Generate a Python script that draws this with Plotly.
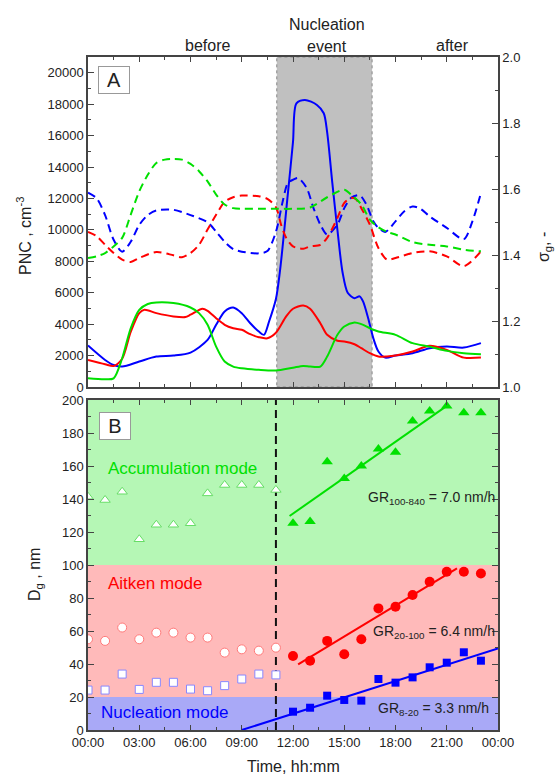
import plotly.graph_objects as go

# ---------------- DATA ----------------
# Panel A: particle number concentration (left axis, cm^-3), time in hours
t_pnc_nuc = [0, 1, 1.5, 2, 3, 4, 5, 6, 7, 7.5, 8, 8.5, 9, 9.5, 10, 10.3, 10.6, 11, 11.25, 11.7, 12, 12.2, 12.7,
             13.4, 13.8, 14.0, 14.3, 14.6, 14.9, 15.2, 15.6, 15.9, 16.1, 16.4, 16.7, 17, 17.4, 18, 19, 20, 21, 22, 23]
pnc_nuc = [2640, 1720, 1400, 1300, 1620, 1940, 2000, 2190, 3000, 3960, 4810, 5060, 4700, 4060, 3530, 3320, 4170,
           5600, 7500, 12300, 15600, 18050, 18270, 17950, 17420, 16200, 13000, 10000, 7300, 6000, 5650, 5770, 5450,
           4380, 3110, 2260, 1870, 2000, 2150, 2470, 2570, 2510, 2790]

t_pnc_ait = [0, 1, 1.5, 2, 2.5, 3, 3.3, 4, 5, 5.7, 6, 6.7, 7, 7.5, 8, 8.5, 9, 9.5, 10, 10.5, 11, 11.6, 12, 12.6,
             13, 13.6, 14, 14.6, 15, 15.6, 16, 16.5, 17, 17.5, 18, 19, 20, 21, 22, 23]
pnc_ait = [1720, 1450, 1340, 1800, 3500, 4700, 4910, 4700, 4490, 4450, 4600, 4980, 4850, 4380, 3960, 3740, 3640,
           3360, 3170, 3100, 3450, 4490, 4980, 5190, 4980, 4060, 3320, 2940, 2890, 2720, 2470, 2150, 1940, 1940,
           2000, 2260, 2620, 2360, 1870, 1870]

t_pnc_acc = [0, 1, 1.5, 2, 2.5, 3, 3.5, 4, 5, 6, 6.5, 7, 7.5, 8, 8.5, 9, 10, 11, 12, 12.6, 13, 13.6, 14, 14.6,
             15, 15.6, 16, 16.5, 17, 18, 19, 20, 21, 22, 23]
pnc_acc = [550, 490, 550, 1830, 3740, 4910, 5280, 5380, 5340, 5060, 4700, 3960, 2570, 1620, 1300, 1190, 1090,
           1050, 1230, 1340, 1300, 1300, 1940, 3320, 3850, 4110, 4000, 3740, 3530, 3320, 2790, 2570, 2300, 2150, 2090]

# Panel A: geometric standard deviation (right axis)
t_sig_nuc = [0, 0.5, 1, 1.5, 2, 2.5, 3, 3.5, 4, 5, 6, 7, 7.5, 8, 8.5, 9, 10, 10.5, 11, 11.4, 11.7, 12, 12.3,
             12.8, 13.2, 13.6, 14, 14.6, 15, 15.4, 15.9, 16.3, 16.7, 17, 17.4, 18, 18.5, 19, 19.4, 20, 21, 22,
             22.5, 23]
sig_nuc = [1.589, 1.572, 1.521, 1.446, 1.410, 1.440, 1.491, 1.521, 1.535, 1.537, 1.521, 1.499, 1.471, 1.440,
           1.418, 1.410, 1.405, 1.412, 1.470, 1.563, 1.618, 1.628, 1.633, 1.603, 1.542, 1.492, 1.462, 1.492,
           1.542, 1.573, 1.581, 1.553, 1.502, 1.482, 1.470, 1.502, 1.532, 1.547, 1.542, 1.517, 1.482, 1.448,
           1.502, 1.588]

t_sig_ait = [0, 0.5, 1, 1.5, 2, 2.5, 3, 4, 5, 5.5, 6, 6.5, 7, 7.5, 8, 8.5, 9, 10, 10.5, 11, 11.3, 11.6, 12,
             12.6, 13, 13.6, 14, 14.6, 15, 15.4, 15.7, 16, 16.5, 17, 17.5, 18, 19, 20, 21, 22, 23]
sig_ait = [1.470, 1.457, 1.431, 1.406, 1.386, 1.379, 1.391, 1.409, 1.399, 1.393, 1.406, 1.431, 1.477, 1.522,
           1.561, 1.575, 1.580, 1.578, 1.570, 1.545, 1.492, 1.452, 1.426, 1.419, 1.426, 1.431, 1.452, 1.512,
           1.558, 1.573, 1.568, 1.542, 1.492, 1.421, 1.386, 1.391, 1.406, 1.411, 1.396, 1.366, 1.411]

t_sig_acc = [0, 0.5, 1, 1.5, 2, 2.5, 3, 3.5, 4, 4.5, 5, 5.5, 6, 6.5, 7, 7.5, 8, 8.5, 9, 10, 11, 12, 13, 14, 15,
             15.4, 16, 16.5, 17, 17.5, 18, 19, 20, 21, 22, 23]
sig_acc = [1.391, 1.396, 1.406, 1.426, 1.452, 1.522, 1.593, 1.643, 1.679, 1.689, 1.691, 1.689, 1.676, 1.654,
           1.623, 1.583, 1.553, 1.542, 1.540, 1.540, 1.540, 1.540, 1.544, 1.575, 1.598, 1.583, 1.553, 1.507,
           1.484, 1.470, 1.462, 1.439, 1.431, 1.426, 1.416, 1.411]

event_start, event_end = 11.05, 16.63

# Panel B: geometric mean diameters (nm)
t_before = [0, 1, 2, 3, 4, 5, 6, 7, 8, 9, 10, 11]
dg_acc_before = [141.4, 139.4, 144.4, 115.6, 124.4, 124.4, 125.3, 143.4, 148.5, 148.5, 148.5, 145.5]
dg_ait_before = [55.0, 54.0, 62.1, 55.0, 59.0, 59.0, 56.0, 56.0, 46.9, 48.9, 48.1, 49.9]
dg_nuc_before = [24.2, 24.2, 33.9, 24.6, 28.9, 28.9, 24.8, 23.8, 26.9, 30.9, 33.9, 33.4]

t_after = [12, 13, 14, 15, 16, 17, 18, 19, 20, 21, 22, 23]
dg_acc_after = [125.3, 126.3, 162.6, 152.5, 160.0, 170.3, 168.3, 187.3, 193.3, 196.4, 192.3, 192.3]
dg_ait_after = [44.8, 42.0, 54.0, 45.9, 55.0, 73.7, 74.7, 81.8, 89.9, 95.9, 95.9, 94.9]
dg_nuc_after = [11.1, 13.5, 20.8, 18.2, 17.8, 30.9, 28.7, 31.9, 38.0, 40.8, 47.1, 42.0]

# growth-rate fit lines (end points)
fit_acc_t, fit_acc_d = [11.8, 21.0], [129.7, 196.4]
fit_ait_t, fit_ait_d = [12.3, 21.6], [39.8, 98.0]
fit_nuc_t, fit_nuc_d = [9.0, 24.0], [0.0, 49.5]

mode_bounds = [0, 20, 100, 200]
tick_hours = [0, 3, 6, 9, 12, 15, 18, 21, 24]
tick_text = ["00:00", "03:00", "06:00", "09:00", "12:00", "15:00", "18:00", "21:00", "00:00"]

# ---------------- STYLE ----------------
BLUE, RED, GREEN = "#0000ff", "#ff0000", "#00e000"
FONT = "Arial, Liberation Sans, sans-serif"
AX = "#444444"
W, H = 557, 775
L, R, T, B = 88, 498, 57, 730  # plot area in window pixels


def P(px, py):
    return (px - L) / (R - L), (B - py) / (B - T)


fig = go.Figure()

# Panel A lines
for t, v, c in [(t_pnc_nuc, pnc_nuc, BLUE), (t_pnc_ait, pnc_ait, RED), (t_pnc_acc, pnc_acc, GREEN)]:
    fig.add_trace(go.Scatter(x=t, y=v, mode="lines", line=dict(color=c, width=2, shape="spline", smoothing=0.8),
                             xaxis="x", yaxis="y", showlegend=False))
for t, v, c in [(t_sig_nuc, sig_nuc, BLUE), (t_sig_ait, sig_ait, RED), (t_sig_acc, sig_acc, GREEN)]:
    fig.add_trace(go.Scatter(x=t, y=v, mode="lines",
                             line=dict(color=c, width=2, dash="8px,5px", shape="spline", smoothing=0.8),
                             xaxis="x", yaxis="y2", showlegend=False))

# Panel B markers
hollow = [(dg_acc_before, "triangle-up", "#66dd66", 9), (dg_ait_before, "circle", "#ff7a7a", 9),
          (dg_nuc_before, "square", "#8888ff", 8)]
for d, sym, lc, sz in hollow:
    fig.add_trace(go.Scatter(x=t_before, y=d, mode="markers",
                             marker=dict(symbol=sym, size=sz, color="white", line=dict(color=lc, width=1)),
                             xaxis="x2", yaxis="y3", showlegend=False))
filled = [(dg_acc_after, "triangle-up", GREEN, 10), (dg_ait_after, "circle", RED, 10),
          (dg_nuc_after, "square", BLUE, 8)]
for d, sym, c, sz in filled:
    fig.add_trace(go.Scatter(x=t_after, y=d, mode="markers", marker=dict(symbol=sym, size=sz, color=c),
                             xaxis="x2", yaxis="y3", showlegend=False))
for t, d, c in [(fit_acc_t, fit_acc_d, GREEN), (fit_ait_t, fit_ait_d, RED), (fit_nuc_t, fit_nuc_d, BLUE)]:
    fig.add_trace(go.Scatter(x=t, y=d, mode="lines", line=dict(color=c, width=2),
                             xaxis="x2", yaxis="y3", showlegend=False))

shapes = [
    dict(type="rect", xref="x", yref="y domain", x0=event_start, x1=event_end, y0=0, y1=1,
         fillcolor="#c0c0c0", line=dict(color="#888888", width=1, dash="dot"), layer="below"),
    dict(type="rect", xref="x2", yref="y3", x0=0, x1=24, y0=mode_bounds[2], y1=mode_bounds[3],
         fillcolor="#b5f7b5", line=dict(width=0), layer="below"),
    dict(type="rect", xref="x2", yref="y3", x0=0, x1=24, y0=mode_bounds[1], y1=mode_bounds[2],
         fillcolor="#ffbaba", line=dict(width=0), layer="below"),
    dict(type="rect", xref="x2", yref="y3", x0=0, x1=24, y0=mode_bounds[0], y1=mode_bounds[1],
         fillcolor="#a9a9f7", line=dict(width=0), layer="below"),
    dict(type="line", xref="x2", yref="y3", x0=11, x1=11, y0=0, y1=200,
         line=dict(color="#111111", width=2, dash="8px,5px"), layer="below"),
]

ann = []


def add_text(px, py, text, size, color="#222222", angle=0, xanchor="center", **kw):
    x, y = P(px, py)
    ann.append(dict(x=x, y=y, xref="paper", yref="paper", text=text, showarrow=False, textangle=angle,
                    xanchor=xanchor, yanchor="middle", font=dict(family=FONT, size=size, color=color), **kw))


add_text(207, 45, "before", 16)
add_text(327, 25, "Nucleation", 16)
add_text(327, 46, "event", 16)
add_text(452, 45, "after", 16)
add_text(114, 80, "A", 20, bordercolor="#999999", borderwidth=1, bgcolor="white", width=28, height=24, borderpad=1)
add_text(115, 426, "B", 20, bordercolor="#999999", borderwidth=1, bgcolor="white", width=28, height=24, borderpad=1)
add_text(24, 236, "PNC , cm<sup>-3</sup>", 16, angle=-90)
add_text(544, 247, "σ<sub>g</sub>, -", 16, angle=-90)
add_text(35, 575, "D<sub>g</sub> , nm", 16, angle=-90)
add_text(293, 766, "Time, hh:mm", 16)
add_text(182, 468, "Accumulation mode", 17, color=GREEN)
add_text(155, 583, "Aitken mode", 17, color=RED)
add_text(165, 712, "Nucleation mode", 17, color=BLUE)
add_text(497, 498, "GR<sub>100-840</sub> = 7.0 nm/h", 14, xanchor="right")
add_text(497, 632, "GR<sub>20-100</sub> = 6.4 nm/h", 14, xanchor="right")
add_text(491, 709, "GR<sub>8-20</sub> = 3.3 nm/h", 14, xanchor="right")

tickfont = dict(family=FONT, size=13, color="#222222")
xcommon = dict(range=[0, 24], tickvals=tick_hours, ticks="inside", ticklen=5, tickwidth=1.2, tickcolor=AX,
               showline=True, linecolor=AX, linewidth=1.5, mirror="ticks", showgrid=False, zeroline=False,
               minor=dict(dtick=1.5, tick0=0, ticks="inside", ticklen=3, tickcolor=AX, showgrid=False),
               tickfont=tickfont)
ya_dom = [(B - 387) / (B - T), 1]
yb_dom = [0, (B - 400) / (B - T)]

fig.update_layout(
    width=W, height=H, paper_bgcolor="white", plot_bgcolor="white",
    margin=dict(l=L, r=W - R, t=T, b=H - B), showlegend=False,
    font=dict(family=FONT, color="#222222"),
    xaxis=dict(**xcommon, anchor="y", domain=[0, 1], showticklabels=False),
    yaxis=dict(domain=ya_dom, anchor="x", range=[0, 21000], tickvals=list(range(0, 20001, 2000)),
               tickformat="d",
               ticks="inside", ticklen=6, tickwidth=1.2, tickcolor=AX, showline=True, linecolor=AX,
               linewidth=1.5, showgrid=False, zeroline=False, tickfont=tickfont,
               minor=dict(dtick=1000, tick0=0, ticks="inside", ticklen=3, tickcolor=AX, showgrid=False)),
    yaxis2=dict(overlaying="y", side="right", anchor="x", range=[1, 2], dtick=0.2, tick0=1, tickformat=".1f",
                ticks="inside", ticklen=6, tickwidth=1.2, tickcolor=AX, showline=True, linecolor=AX,
                linewidth=1.5, showgrid=False, zeroline=False, tickfont=tickfont,
                minor=dict(dtick=0.1, tick0=1, ticks="inside", ticklen=3, tickcolor=AX, showgrid=False)),
    xaxis2=dict(**xcommon, anchor="y3", domain=[0, 1], ticktext=tick_text),
    yaxis3=dict(domain=yb_dom, anchor="x2", range=[0, 200], dtick=20, tick0=0,
                ticks="inside", ticklen=6, tickwidth=1.2, tickcolor=AX, showline=True, linecolor=AX,
                linewidth=1.5, mirror="ticks", showgrid=False, zeroline=False, tickfont=tickfont,
                minor=dict(dtick=10, tick0=0, ticks="inside", ticklen=3, tickcolor=AX, showgrid=False)),
    shapes=shapes, annotations=ann,
)

# remove the default page margin so the figure fills the 557x775 window exactly
fig.write_html("out.html", config={"displayModeBar": False},
               post_script="document.body.style.margin='0';document.body.style.overflow='hidden';")
